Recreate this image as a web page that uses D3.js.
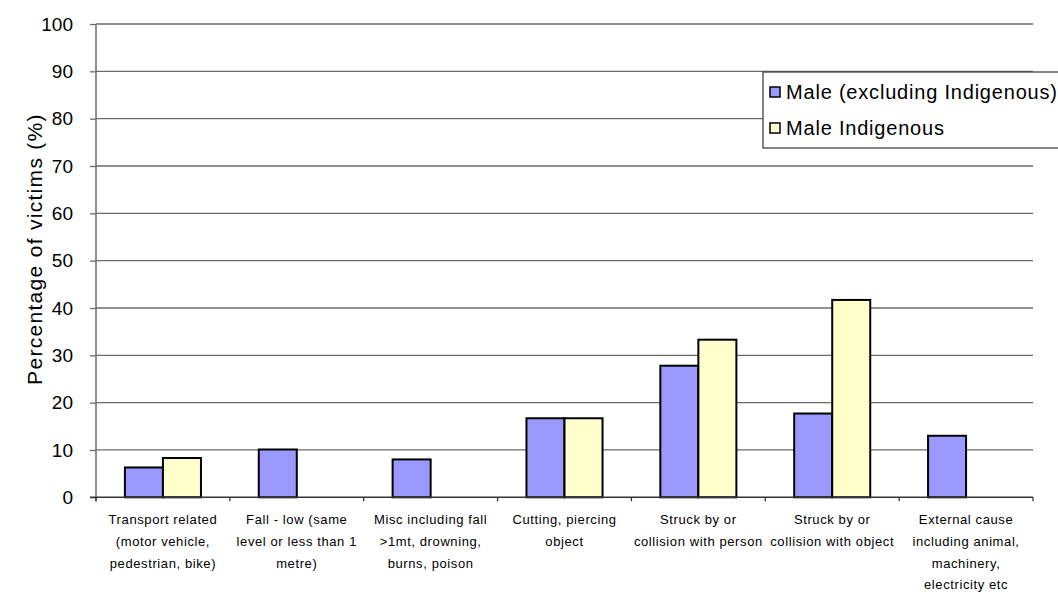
<!DOCTYPE html>
<html>
<head>
<meta charset="utf-8">
<script src="https://cdn.jsdelivr.net/npm/d3@7"></script>
<style>
  html, body { margin: 0; padding: 0; background: #fff; }
  svg { display: block; font-family: "Liberation Sans", Arial, sans-serif; }
</style>
</head>
<body>
<svg id="chart" width="1058" height="592"></svg>
<script>
const categories = [
  ["Transport related", "(motor vehicle,", "pedestrian, bike)"],
  ["Fall - low (same", "level or less than 1", "metre)"],
  ["Misc including fall", ">1mt, drowning,", "burns, poison"],
  ["Cutting, piercing", "object"],
  ["Struck by or", "collision with person"],
  ["Struck by or", "collision with object"],
  ["External cause", "including animal,", "machinery,", "electricity etc"]
];
const seriesNames = ["Male (excluding Indigenous)", "Male Indigenous"];
const maleNonIndigenous = [6.3, 10.1, 8.0, 16.7, 27.8, 17.7, 13.0];
const maleIndigenous = [8.3, 0, 0, 16.7, 33.3, 41.7, 0];
const seriesColors = ["#9999FF", "#FFFFCC"];
const yTicks = [0, 10, 20, 30, 40, 50, 60, 70, 80, 90, 100];
const yTitle = "Percentage of victims (%)";

const svg = d3.select("#chart");
const mLeft = 96, mRight = 1033, mTop = 24, mBottom = 497.3;

const catIdx = categories.map((d, i) => i);
const x = d3.scaleBand().domain(catIdx).range([mLeft, mRight]).paddingInner(0).paddingOuter(0);
const x1 = d3.scaleBand().domain([0, 1]).range([0, x.bandwidth()]).paddingInner(0).paddingOuter(0.76);
const y = d3.scaleLinear().domain([0, 100]).range([mBottom, mTop]);

// gridlines
svg.append("g").selectAll("line").data(yTicks.filter(t => t > 0)).join("line")
  .attr("x1", mLeft).attr("x2", mRight)
  .attr("y1", d => y(d)).attr("y2", d => y(d))
  .attr("stroke", "#6b6b6b").attr("stroke-width", 1.3);

// bars
const data = [];
catIdx.forEach(i => {
  [maleNonIndigenous, maleIndigenous].forEach((arr, s) => {
    if (arr[i] > 0) data.push({ i, s, v: arr[i] });
  });
});
svg.append("g").selectAll("rect").data(data).join("rect")
  .attr("x", d => x(d.i) + x1(d.s))
  .attr("y", d => y(d.v))
  .attr("width", x1.bandwidth())
  .attr("height", d => mBottom - y(d.v))
  .attr("fill", d => seriesColors[d.s])
  .attr("stroke", "#000").attr("stroke-width", 2);

// y axis
const yAxis = d3.axisLeft(y).tickValues(yTicks).tickSize(6).tickSizeOuter(0);
const gy = svg.append("g").attr("transform", `translate(${mLeft},0)`).call(yAxis);
gy.select(".domain").attr("stroke", "#6b6b6b").attr("stroke-width", 1.5)
  .attr("d", `M0,${mTop}V${mBottom + 4}`);
gy.selectAll(".tick line").attr("stroke", "#6b6b6b").attr("stroke-width", 1.3);
gy.selectAll(".tick text").attr("font-size", 19).attr("fill", "#000")
  .attr("font-family", "Liberation Sans, Arial, sans-serif").attr("x", -23);

// x axis
const xBoundaries = d3.range(categories.length + 1).map(i => mLeft + i * x.step());
svg.append("line").attr("x1", mLeft - 6).attr("x2", mRight)
  .attr("y1", mBottom).attr("y2", mBottom)
  .attr("stroke", "#333").attr("stroke-width", 1.5);
svg.append("g").selectAll("line").data(xBoundaries).join("line")
  .attr("x1", d => d).attr("x2", d => d)
  .attr("y1", mBottom).attr("y2", mBottom + 4)
  .attr("stroke", "#333").attr("stroke-width", 1.3);

// x labels
const xl = svg.append("g").selectAll("text").data(catIdx).join("text")
  .attr("x", i => x(i) + x.bandwidth() / 2)
  .attr("text-anchor", "middle")
  .attr("font-size", 13)
  .attr("letter-spacing", 0.6)
  .attr("fill", "#000");
xl.each(function(i) {
  d3.select(this).selectAll("tspan").data(categories[i]).join("tspan")
    .attr("x", x(i) + x.bandwidth() / 2)
    .attr("y", (d, k) => 524 + k * 21.8)
    .text(d => d);
});

// y title
svg.append("text")
  .attr("transform", `translate(42, 249) rotate(-90)`)
  .attr("text-anchor", "middle")
  .attr("font-size", 21)
  .attr("letter-spacing", 1.3)
  .attr("fill", "#000")
  .text(yTitle);

// legend
const lg = svg.append("g");
lg.append("rect").attr("x", 763).attr("y", 72).attr("width", 310).attr("height", 76)
  .attr("fill", "#fff").attr("stroke", "#444").attr("stroke-width", 1.3);
seriesNames.forEach((name, k) => {
  const cy = 92 + k * 36;
  lg.append("rect").attr("x", 770).attr("y", cy - 5).attr("width", 10).attr("height", 10)
    .attr("fill", seriesColors[k]).attr("stroke", "#000").attr("stroke-width", 1.5);
  lg.append("text").attr("x", 786).attr("y", cy + 6.5)
    .attr("font-size", 20).attr("letter-spacing", 0.8).attr("fill", "#000").text(name);
});
</script>
</body>
</html>
